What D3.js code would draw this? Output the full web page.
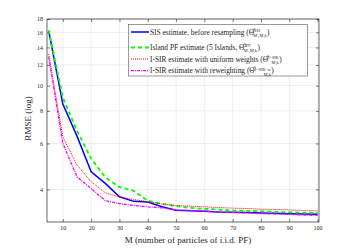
<!DOCTYPE html>
<html>
<head>
<meta charset="utf-8">
<script src="https://cdn.jsdelivr.net/npm/d3@7"></script>
<style>
  body { margin: 0; background: #fff; }
  text { font-family: "Liberation Serif", "DejaVu Serif", serif; fill: #262626; }
</style>
</head>
<body>
<svg id="chart" width="355" height="250"></svg>
<script>
// ** Data
const particles = [5, 10, 15, 20, 25, 30, 35, 40, 45, 50, 55, 60, 65, 70, 75, 80, 85, 90, 95, 100];
const sisRmse = [16.2, 8.5, 6.4, 4.67, 4.22, 3.75, 3.6, 3.58, 3.43, 3.33, 3.31, 3.3, 3.28, 3.27, 3.26, 3.25, 3.24, 3.23, 3.22, 3.21];
const ipfRmse = [16.3, 9.0, 6.7, 5.25, 4.45, 4.08, 3.95, 3.62, 3.52, 3.45, 3.4, 3.37, 3.35, 3.32, 3.31, 3.3, 3.28, 3.27, 3.26, 3.25];
const isirRmse = [13.2, 6.35, 4.96, 4.28, 3.88, 3.74, 3.66, 3.59, 3.52, 3.47, 3.45, 3.43, 3.41, 3.39, 3.38, 3.36, 3.35, 3.34, 3.32, 3.31];
const isirwRmse = [12.9, 6.0, 4.47, 4.03, 3.62, 3.53, 3.47, 3.43, 3.4, 3.34, 3.32, 3.3, 3.28, 3.26, 3.25, 3.23, 3.22, 3.21, 3.19, 3.18];
const xTicks = [10, 20, 30, 40, 50, 60, 70, 80, 90, 100];
const yTicks = [4, 6, 8, 10, 12, 14, 16, 18];

const series = [
  { name: "sis", values: sisRmse, color: "#0000ff", width: 1.5, dash: null,
    label: [["SIS estimate, before resampling ("], ["Θ̂"], ["SIS", "sup"], ["M\u2032₁M,k", "sub"], [")"]] },
  { name: "ipf", values: ipfRmse, color: "#00ff00", width: 1.8, dash: "4,3",
    label: [["Island PF estimate (5 Islands, "], ["Θ̂"], ["IPF", "sup"], ["M\u2032₁M,k", "sub"], [")"]] },
  { name: "isir", values: isirRmse, color: "#ff0000", width: 1, dash: "1,1",
    label: [["I-SIR estimate with uniform weights ("], ["Θ̂"], ["I−SIR", "sup"], ["M,k", "sub"], [")"]] },
  { name: "isirw", values: isirwRmse, color: "#ff00ff", width: 1.3, dash: "3,1,1,1",
    label: [["I-SIR estimate with reweighting ("], ["Θ̂"], ["I−SIR−w", "sup"], ["M,k", "sub"], [")"]] }
];

// ** Layout
const plot = { left: 47, right: 319, top: 19, bottom: 222 };
const svg = d3.select("#chart");

const x = d3.scaleLinear().domain([4.4, 100.5]).range([plot.left, plot.right]);
const y = d3.scaleLog().domain([3, 18]).range([plot.bottom, plot.top]);

// grid
const grid = svg.append("g").attr("class", "grid").attr("stroke", "#e3e3e3").attr("stroke-width", 0.6);
grid.selectAll(".gx").data(xTicks).join("line")
  .attr("x1", d => x(d)).attr("x2", d => x(d))
  .attr("y1", plot.top).attr("y2", plot.bottom);
grid.selectAll(".gy").data(yTicks).join("line")
  .attr("x1", plot.left).attr("x2", plot.right)
  .attr("y1", d => y(d)).attr("y2", d => y(d));

// axes (ticks pointing inwards, box on)
const axisStyle = g => {
  g.select(".domain").remove();
  g.selectAll("line").attr("stroke", "#262626").attr("stroke-width", 0.6);
  g.selectAll("text").style("font-size", "6px").style("fill", "#262626")
    .style("font-family", '"Liberation Serif", serif');
};
svg.append("g").attr("transform", `translate(0,${plot.bottom})`)
  .call(d3.axisBottom(x).tickValues(xTicks).tickSizeInner(-3).tickPadding(4).tickFormat(d3.format("d")))
  .call(axisStyle);
svg.append("g").attr("transform", `translate(0,${plot.top})`)
  .call(d3.axisTop(x).tickValues(xTicks).tickSizeInner(-3).tickFormat(""))
  .call(axisStyle);
svg.append("g").attr("transform", `translate(${plot.left},0)`)
  .call(d3.axisLeft(y).tickValues(yTicks).tickSizeInner(-3).tickPadding(4).tickFormat(d3.format("d")))
  .call(axisStyle);
svg.append("g").attr("transform", `translate(${plot.right},0)`)
  .call(d3.axisRight(y).tickValues(yTicks).tickSizeInner(-3).tickFormat(""))
  .call(axisStyle);

svg.append("rect")
  .attr("x", plot.left).attr("y", plot.top)
  .attr("width", plot.right - plot.left).attr("height", plot.bottom - plot.top)
  .attr("fill", "none").attr("stroke", "#262626").attr("stroke-width", 0.7);

// lines
const line = d3.line().x(d => x(d[0])).y(d => y(d[1]));
svg.append("g").selectAll("path").data(series).join("path")
  .attr("d", s => line(particles.map((m, i) => [m, s.values[i]])))
  .attr("fill", "none")
  .attr("stroke", s => s.color)
  .attr("stroke-width", s => s.width)
  .attr("stroke-dasharray", s => s.dash);

// axis labels
svg.append("text")
  .attr("x", (plot.left + plot.right) / 2 + 5).attr("y", 243)
  .attr("text-anchor", "middle").style("font-size", "9px")
  .text("M (number of particles of i.i.d. PF)");
svg.append("text")
  .attr("transform", `translate(31,${(plot.top + plot.bottom) / 2 - 2}) rotate(-90)`)
  .attr("text-anchor", "middle").style("font-size", "9px")
  .text("RMSE (log)");

// legend
const legend = svg.append("g").attr("class", "legend");
legend.append("rect")
  .attr("x", 128.5).attr("y", 24.5).attr("width", 179).attr("height", 51.5)
  .attr("fill", "#fff").attr("stroke", "#555").attr("stroke-width", 0.6);
const rowY = [32, 47.5, 59, 70.7];
const rows = legend.selectAll(".row").data(series).join("g")
  .attr("transform", (d, i) => `translate(0,${rowY[i]})`);
rows.append("line")
  .attr("x1", 131).attr("x2", 149).attr("y1", 0).attr("y2", 0)
  .attr("stroke", s => s.color)
  .attr("stroke-width", s => s.width)
  .attr("stroke-dasharray", s => s.dash);
const labels = rows.append("text")
  .attr("x", 150).attr("y", 2.5)
  .style("font-size", "7.4px");
labels.each(function (s) {
  const t = d3.select(this);
  s.label.forEach(([txt, kind]) => {
    const ts = t.append("tspan").text(txt);
    if (kind === "sup") ts.attr("dy", -2.6).style("font-size", "4.3px");
    if (kind === "sub") ts.attr("dx", -7).attr("dy", 5).style("font-size", "4.3px");
    if (txt === ")") ts.attr("dy", -2.4).attr("dx", 0.5);
  });
});
</script>
</body>
</html>
